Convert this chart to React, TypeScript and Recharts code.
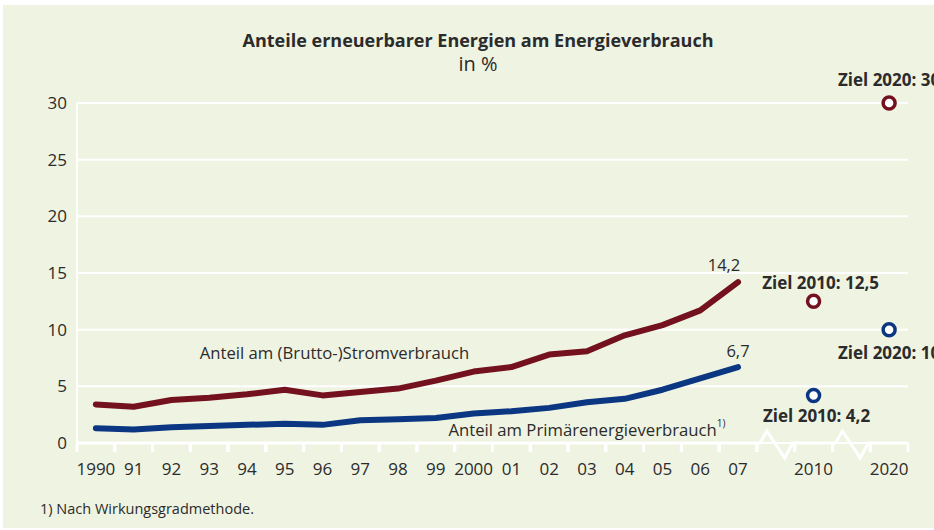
import {
  ComposedChart,
  Line,
  XAxis,
  YAxis,
  CartesianGrid,
  LabelList,
  ReferenceDot,
} from 'recharts';

// tick labels along the x axis ('' marks a broken-axis gap)
const xLabels = ['1990', '91', '92', '93', '94', '95', '96', '97', '98', '99', '2000',
  '01', '02', '03', '04', '05', '06', '07', '', '2010', '', '2020'];

// share of electricity consumption, %
const stromValues = [3.4, 3.2, 3.8, 4.0, 4.3, 4.7, 4.2, 4.5, 4.8, 5.5, 6.3,
  6.7, 7.8, 8.1, 9.5, 10.4, 11.7, 14.2];
// share of primary energy consumption, %
const primaerValues = [1.3, 1.2, 1.4, 1.5, 1.6, 1.7, 1.6, 2.0, 2.1, 2.2, 2.6,
  2.8, 3.1, 3.6, 3.9, 4.7, 5.7, 6.7];

// targets for 2010 / 2020
const stromZiele: Record<string, number> = { '2010': 12.5, '2020': 30 };
const primaerZiele: Record<string, number> = { '2010': 4.2, '2020': 10 };

const yTicks = [0, 5, 10, 15, 20, 25, 30];

const RED = '#74111f';
const BLUE = '#0b3782';
const BG = '#eff3e2';
const TEXT = '#2b2b2b';
const FONT = '"Open Sans", sans-serif';

const W = 934;
const H = 530;
const MARGIN = { top: 103, right: 26, bottom: 57, left: 17 };
const Y_AXIS_W = 60;
const X_AXIS_H = 30;
const AXIS_Y = H - MARGIN.bottom - X_AXIS_H;
const BAND = (W - MARGIN.left - Y_AXIS_W - MARGIN.right) / xLabels.length;

const data = xLabels.map((label, i) => ({
  cat: label || `gap${i}`,
  strom: i < stromValues.length ? stromValues[i] : null,
  primaer: i < primaerValues.length ? primaerValues[i] : null,
  stromZiel: stromZiele[label] ?? null,
  primaerZiel: primaerZiele[label] ?? null,
}));

const fmt = (v: number) => String(v).replace('.', ',');

// draws one band of the axis line, its tick marks and its label
const AxisTick = (props: any) => {
  const { x, payload } = props;
  const value: string = payload.value;
  const x0 = x - BAND / 2;
  const x1 = x + BAND / 2;
  const isGap = value.startsWith('gap');
  const stroke = { stroke: '#fff', strokeWidth: 3, fill: 'none' };
  return (
    <g>
      {isGap ? (
        <polyline
          points={`${x0},${AXIS_Y} ${x0 + 3},${AXIS_Y} ${x0 + 10},${AXIS_Y - 12} ${x1 - 10},${AXIS_Y + 15} ${x1 - 2},${AXIS_Y} ${x1},${AXIS_Y}`}
          {...stroke}
          strokeLinejoin="miter"
        />
      ) : (
        <line x1={x0} y1={AXIS_Y} x2={x1} y2={AXIS_Y} {...stroke} />
      )}
      <line x1={x0} y1={AXIS_Y} x2={x0} y2={AXIS_Y + 9} {...stroke} />
      <line x1={x1} y1={AXIS_Y} x2={x1} y2={AXIS_Y + 9} {...stroke} />
      {!isGap && (
        <text x={x} y={AXIS_Y + 32} textAnchor="middle" fill={TEXT} fontSize={17} fontFamily={FONT}>
          {value}
        </text>
      )}
    </g>
  );
};

const endLabel = (dx: number, dy: number) => (props: any) => {
  const { x, y, value, index } = props;
  if (index !== stromValues.length - 1 || value == null) return null;
  return (
    <text x={x + dx} y={y + dy} textAnchor="middle" fill={TEXT} fontSize={16.5} fontFamily={FONT}>
      {fmt(value)}
    </text>
  );
};

const zielLabel = (offsets: Record<string, [number, number]>) => (props: any) => {
  const { x, y, value, index } = props;
  if (value == null) return null;
  const [dx, dy] = offsets[xLabels[index]];
  return (
    <text x={x + dx} y={y + dy} textAnchor="middle" fill={TEXT} fontSize={17} fontWeight={700} fontFamily={FONT}>
      {`Ziel ${xLabels[index]}: ${fmt(value)}`}
    </text>
  );
};

const seriesName = (text: string, dx: number, sup?: string) => (props: any) => {
  const { viewBox } = props;
  return (
    <text x={viewBox.x + dx} y={viewBox.y} textAnchor="middle" dominantBaseline="central" fill={TEXT} fontSize={16.7} fontFamily={FONT}>
      {text}
      {sup && <tspan fontSize={10} dy={-6}>{sup}</tspan>}
    </text>
  );
};

const App = () => {
  return (
    <div style={{ position: 'absolute', left: 0, top: 0, width: W, height: H, background: '#fff', overflow: 'hidden', fontFamily: FONT }}>
      <div style={{ position: 'absolute', left: 3, top: 5, width: W - 3, height: H - 7, background: BG }} />
      <div style={{ position: 'absolute', left: 0, top: 28, width: 956, textAlign: 'center', color: TEXT, fontSize: 18, fontWeight: 700 }}>
        Anteile erneuerbarer Energien am Energieverbrauch
      </div>
      <div style={{ position: 'absolute', left: 0, top: 50, width: 956, textAlign: 'center', color: TEXT, fontSize: 20 }}>
        in %
      </div>
      <div style={{ position: 'absolute', left: 40, top: 499, color: TEXT, fontSize: 14.5 }}>
        1) Nach Wirkungsgradmethode.
      </div>
      <div style={{ position: 'absolute', left: 0, top: 0 }}>
        <ComposedChart width={W} height={H} data={data} margin={MARGIN}>
          <CartesianGrid horizontal vertical={false} stroke="#fff" strokeWidth={2} />
          <XAxis
            dataKey="cat"
            height={X_AXIS_H}
            axisLine={false}
            tickLine={false}
            interval={0}
            padding={{ left: BAND / 2, right: BAND / 2 }}
            tick={<AxisTick />}
          />
          <YAxis
            width={Y_AXIS_W}
            domain={[0, 30]}
            ticks={yTicks}
            axisLine={{ stroke: '#fff', strokeWidth: 2 }}
            tickLine={false}
            tickSize={8}
            tickMargin={2}
            tick={{ fill: TEXT, fontSize: 17, fontFamily: FONT }}
          />
          <Line
            dataKey="strom"
            stroke={RED}
            strokeWidth={6}
            strokeLinecap="round"
            strokeLinejoin="round"
            dot={false}
            isAnimationActive={false}
          >
            <LabelList dataKey="strom" content={endLabel(-14, -11)} />
          </Line>
          <Line
            dataKey="primaer"
            stroke={BLUE}
            strokeWidth={6}
            strokeLinecap="round"
            strokeLinejoin="round"
            dot={false}
            isAnimationActive={false}
          >
            <LabelList dataKey="primaer" content={endLabel(0, -10)} />
          </Line>
          <Line
            dataKey="stromZiel"
            stroke="none"
            dot={{ r: 6, fill: '#fff', stroke: RED, strokeWidth: 3.5 }}
            isAnimationActive={false}
          >
            <LabelList dataKey="stromZiel" content={zielLabel({ '2010': [7, -12], '2020': [0, -17] })} />
          </Line>
          <Line
            dataKey="primaerZiel"
            stroke="none"
            dot={{ r: 6, fill: '#fff', stroke: BLUE, strokeWidth: 3.5 }}
            isAnimationActive={false}
          >
            <LabelList dataKey="primaerZiel" content={zielLabel({ '2010': [3, 27], '2020': [0, 29] })} />
          </Line>
          <ReferenceDot x="96" y={7.95} r={0} stroke="none" fill="none" label={{ content: seriesName('Anteil am (Brutto-)Stromverbrauch', 12) }} />
          <ReferenceDot x="03" y={1.2} r={0} stroke="none" fill="none" label={{ content: seriesName('Anteil am Primärenergieverbrauch', 0, '1)') }} />
        </ComposedChart>
      </div>
    </div>
  );
};

export default App;
